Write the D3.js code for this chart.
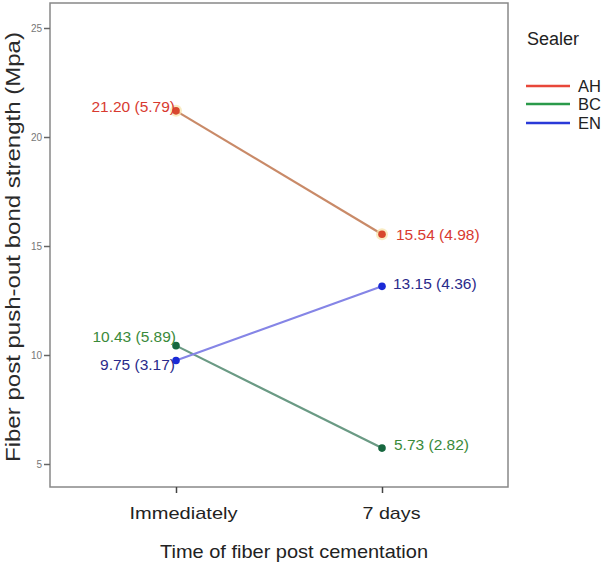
<!DOCTYPE html>
<html><head><meta charset="utf-8">
<script src="https://cdn.jsdelivr.net/npm/d3@7"></script>
<style>body{margin:0;background:#fff}svg{display:block;font-family:Arial,"Liberation Sans",sans-serif}</style>
</head><body><svg id="c" width="609" height="568"></svg>
<script>
const times = ["Immediately", "7 days"];
const sealers = ["AH", "BC", "EN"];
const meansAH = [21.20, 15.54];
const sdsAH = [5.79, 4.98];
const meansBC = [10.43, 5.73];
const sdsBC = [5.89, 2.82];
const meansEN = [9.75, 13.15];
const sdsEN = [3.17, 4.36];
const yTicks = [25, 20, 15, 10, 5];

const series = [
  {name:"AH", means:meansAH, sds:sdsAH, line:"#c98a68", pt:"#d8472e", txt:"#d83a30", leg:"#e8473a", halo:"#f6e3a8"},
  {name:"BC", means:meansBC, sds:sdsBC, line:"#6a9a84", pt:"#17673f", txt:"#3a8a3a", leg:"#2a9a4a", halo:null},
  {name:"EN", means:meansEN, sds:sdsEN, line:"#8585e6", pt:"#1a2ad6", txt:"#2a2a8a", leg:"#2a3ad8", halo:null}
];

const svg = d3.select("#c");
const L=50, R=508, T=3, B=487;
const x = d3.scalePoint().domain(times).range([176, 382]);
const y = d3.scaleLinear().domain([5, 25]).range([464, 28]);

svg.append("rect").attr("x",L).attr("y",T).attr("width",R-L).attr("height",B-T)
  .attr("fill","none").attr("stroke","#888").attr("stroke-width",1.5);

const ya = svg.append("g").attr("transform",`translate(${L},0)`)
  .call(d3.axisLeft(y).tickValues(yTicks).tickSize(6).tickPadding(2).tickFormat(d3.format("d")));
ya.select(".domain").remove();
ya.selectAll("line").attr("stroke","#666").attr("stroke-width",1.5);
ya.selectAll("text").attr("fill","#777").attr("font-size",10);

const xa = svg.append("g").attr("transform",`translate(0,${B})`)
  .call(d3.axisBottom(x).tickSize(6).tickPadding(14));
xa.select(".domain").remove();
xa.selectAll("line").attr("stroke","#444").attr("stroke-width",1.5);
const tickW = {"Immediately":108, "7 days":58};
const tickShift = {"Immediately":7, "7 days":9};
xa.selectAll("text").attr("fill","#222").attr("font-size",17)
  .attr("x",d=>tickShift[d])
  .attr("textLength",d=>tickW[d]).attr("lengthAdjust","spacingAndGlyphs");

svg.append("text").attr("x",294).attr("y",551).attr("dy","0.35em").attr("text-anchor","middle")
  .attr("font-size",19).attr("fill","#222")
  .attr("textLength",268).attr("lengthAdjust","spacingAndGlyphs")
  .text("Time of fiber post cementation");
svg.append("text").attr("transform",`translate(13,247) rotate(-90)`).attr("text-anchor","middle")
  .attr("dy","0.35em").attr("font-size",19.5).attr("fill","#2a2a2a")
  .attr("textLength",430).attr("lengthAdjust","spacingAndGlyphs")
  .text("Fiber post push-out bond strength (Mpa)");

const line = d3.line().x((d,i)=>x(times[i])).y(d=>y(d));
series.forEach(s=>{
  svg.append("path").datum(s.means).attr("d",line).attr("fill","none")
    .attr("stroke",s.line).attr("stroke-width",2.2);
});
series.forEach(s=>{
  s.means.forEach((m,i)=>{
    if (s.halo) svg.append("circle").attr("cx",x(times[i])).attr("cy",y(m)).attr("r",6).attr("fill",s.halo).attr("opacity",0.7);
    svg.append("circle").attr("cx",x(times[i])).attr("cy",y(m)).attr("r",3.8).attr("fill",s.pt);
  });
});

// value labels
const lab = [
  {s:0,i:0,dx:-1,dy:-4,anchor:"end"},
  {s:0,i:1,dx:14,dy:0,anchor:"start"},
  {s:1,i:0,dx:0,dy:-9.5,anchor:"end"},
  {s:1,i:1,dx:12,dy:-4,anchor:"start"},
  {s:2,i:0,dx:-1,dy:4.5,anchor:"end"},
  {s:2,i:1,dx:11,dy:-3,anchor:"start"}
];
lab.forEach(l=>{
  const s=series[l.s];
  svg.append("text").attr("x",x(times[l.i])+l.dx).attr("y",y(s.means[l.i])+l.dy)
    .attr("dy","0.35em").attr("text-anchor",l.anchor).attr("font-size",15.5).attr("fill",s.txt)
    .text(`${s.means[l.i].toFixed(2)} (${s.sds[l.i].toFixed(2)})`);
});

// legend
svg.append("text").attr("x",527).attr("y",45).attr("font-size",18).attr("fill","#222").text("Sealer");
const legY=[86,104,123];
series.forEach((s,i)=>{
  svg.append("line").attr("x1",526).attr("x2",570).attr("y1",legY[i]).attr("y2",legY[i])
    .attr("stroke",s.leg).attr("stroke-width",2.5);
  svg.append("text").attr("x",578).attr("y",legY[i]).attr("dy","0.35em").attr("font-size",16.5).attr("fill","#222").text(s.name);
});
</script></body></html>
